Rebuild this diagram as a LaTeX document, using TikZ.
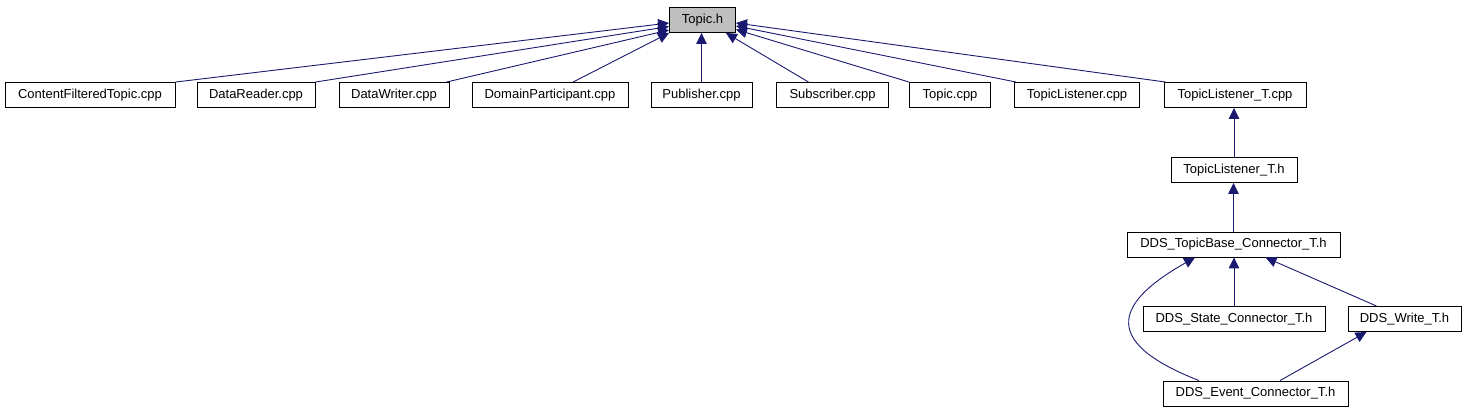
\documentclass[tikz,border=0pt]{standalone}
\usepackage{fontspec}
\setmainfont{Liberation Sans}
\usetikzlibrary{arrows.meta}
\definecolor{edgeblue}{RGB}{25,25,112}
\definecolor{nodegray}{RGB}{191,191,191}

\begin{document}
\begin{tikzpicture}[x=1pt, y=-1pt,
    file/.style={rectangle, draw=black, fill=white, line width=0.9pt, inner sep=0pt,
        minimum height=25pt, font=\fontsize{13}{15}\selectfont},
    dep/.style={draw=edgeblue, line width=0.9pt, -{Triangle[length=11pt, width=10.5pt]}}]
\useasboundingbox (0,0) rectangle (1465,411);

% Header
\node[file, fill=nodegray, minimum width=66pt] (topich) at (702.5,20) {Topic.h};

% Files that include it
\foreach \n/\x/\w/\t in {cft/90/170/ContentFilteredTopic.cpp, datareader/256/118/DataReader.cpp,
    datawriter/394/110/DataWriter.cpp, domainpart/550/156/DomainParticipant.cpp,
    publisher/701.5/101/Publisher.cpp, subscriber/832.5/112/Subscriber.cpp,
    topiccpp/950/81/Topic.cpp, topiclistener/1077/125/TopicListener.cpp,
    tltcpp/1235/142/TopicListener\_T.cpp}
    \node[file, minimum width=\w pt] (\n) at (\x,95) {\t};

% Connector chain
\node[file, minimum width=126pt] (tlth) at (1234,170) {TopicListener\_T.h};
\node[file, minimum width=213pt] (tbase) at (1233.5,244.5) {DDS\_TopicBase\_Connector\_T.h};
\node[file, minimum width=182pt] (state) at (1234,319) {DDS\_State\_Connector\_T.h};
\node[file, minimum width=113pt] (write) at (1404.5,319) {DDS\_Write\_T.h};
\node[file, minimum width=185pt] (event) at (1255.5,393.5) {DDS\_Event\_Connector\_T.h};

% Include edges
\draw[dep] (cft.north east) -- ([yshift=-3pt]topich.west);
\draw[dep] (datareader.north east) -- ([yshift=-6.5pt]topich.west);
\draw[dep] ([xshift=-3pt]datawriter.north east) -- ([yshift=-10pt]topich.west);
\draw[dep] ([xshift=23pt]domainpart.north) -- (topich.south west);
\draw[dep] (publisher.north) -- (publisher.north |- topich.south);
\draw[dep] ([xshift=-24pt]subscriber.north) -- ([xshift=-10pt]topich.south east);
\draw[dep] (topiccpp.north west) -- ([yshift=-9.5pt]topich.east);
\draw[dep] ([xshift=2pt]topiclistener.north west) -- ([yshift=-6pt]topich.east);
\draw[dep] ([xshift=2pt]tltcpp.north west) -- ([yshift=-3pt]topich.east);

\draw[dep] (tlth.north) -- (tlth.north |- tltcpp.south);
\draw[dep] (tbase.north) -- (tbase.north |- tlth.south);
\draw[dep] (state.north) -- (state.north |- tbase.south);
\draw[dep] ([xshift=-28pt]write.north) -- ([xshift=32pt]tbase.south);
\draw[dep] ([xshift=24.5pt]event.north) -- ([xshift=-38pt]write.south);
\draw[dep] ([xshift=-56.5pt]event.north) .. controls (1095,340) and (1120,300) .. ([xshift=-38.5pt]tbase.south);
\end{tikzpicture}
\end{document}
